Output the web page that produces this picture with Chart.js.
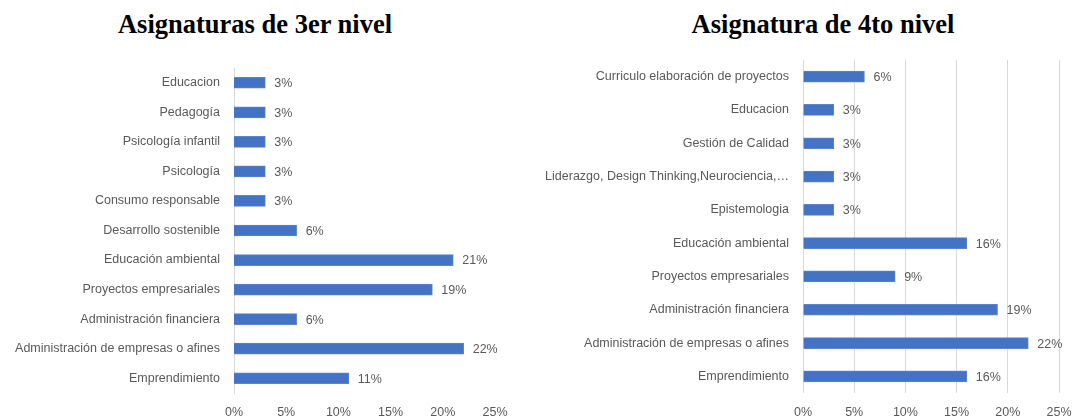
<!DOCTYPE html>
<html>
<head>
<meta charset="utf-8">
<script src="https://cdn.jsdelivr.net/npm/chart.js@4"></script>
<style>
  body { margin: 0; background: #fff; width: 1086px; height: 419px; position: relative; overflow: hidden; }
  .titulo { position: absolute; top: 9px; font-family: "Liberation Serif", "Times New Roman", serif; font-weight: bold; font-size: 26.5px; color: #000; white-space: nowrap; transform: translateX(-50%); }
  .caja { position: absolute; top: 0; height: 432px; }
</style>
</head>
<body>
<div class="titulo" style="left:255px">Asignaturas de 3er nivel</div>
<div class="titulo" style="left:823px">Asignatura de 4to nivel</div>
<div class="caja" style="left:0;width:540px"><canvas id="grafico3"></canvas></div>
<div class="caja" style="left:540px;width:546px"><canvas id="grafico4"></canvas></div>
<script>
// datos tercer nivel
const materias3 = ['Educacion', 'Pedagogía', 'Psicología infantil', 'Psicología', 'Consumo responsable',
    'Desarrollo sostenible', 'Educación ambiental', 'Proyectos empresariales', 'Administración financiera',
    'Administración de empresas o afines', 'Emprendimiento'];
const porcentajes3 = [3, 3, 3, 3, 3, 6, 21, 19, 6, 22, 11];

// datos cuarto nivel
const materias4 = ['Curriculo elaboración de proyectos', 'Educacion', 'Gestión de Calidad',
    'Liderazgo, Design Thinking,Neurociencia,…', 'Epistemologia', 'Educación ambiental',
    'Proyectos empresariales', 'Administración financiera', 'Administración de empresas o afines', 'Emprendimiento'];
const porcentajes4 = [6, 3, 3, 3, 3, 16, 9, 19, 22, 16];

const ticksX = [0, 5, 10, 15, 20, 25];

const fuente = { family: '"Liberation Sans", Arial, sans-serif', size: 12.5 };
const gris = '#595959';

// etiquetas al final de cada barra
const etiquetas = {
    id: 'etiquetas',
    afterDatasetsDraw(chart) {
        const ctx = chart.ctx;
        const meta = chart.getDatasetMeta(0);
        ctx.save();
        ctx.font = fuente.size + 'px ' + fuente.family;
        ctx.fillStyle = gris;
        ctx.textAlign = 'left';
        ctx.textBaseline = 'middle';
        meta.data.forEach((bar, i) => {
            ctx.fillText(chart.data.datasets[0].data[i] + '%', bar.x + 9, bar.y + 1);
        });
        ctx.restore();
    }
};

function crearGrafico(id, labels, valores, anchoEje, padding, conGrilla) {
    const ctx = document.getElementById(id).getContext('2d');
    return new Chart(ctx, {
        type: 'bar',
        data: {
            labels: labels,
            datasets: [{
                data: valores,
                backgroundColor: '#4472C4',
                borderColor: '#5b84cc',
                borderWidth: 1,
                barThickness: 11
            }]
        },
        options: {
            indexAxis: 'y',
            responsive: true,
            maintainAspectRatio: false,
            animation: false,
            layout: { padding: padding },
            plugins: {
                legend: { display: false },
                tooltip: { enabled: false }
            },
            scales: {
                x: {
                    min: 0,
                    max: 25,
                    afterBuildTicks: function(scale) {
                        scale.ticks = ticksX.map(v => ({ value: v }));
                    },
                    ticks: {
                        color: gris,
                        font: fuente,
                        padding: 12,
                        callback: v => v + '%'
                    },
                    grid: {
                        display: conGrilla,
                        color: '#d9d9d9',
                        drawTicks: false
                    },
                    border: { display: false }
                },
                y: {
                    afterFit: function(scale) { scale.width = anchoEje; },
                    ticks: { color: gris, font: fuente, padding: 14 },
                    grid: { display: false, drawTicks: false },
                    border: { display: !conGrilla, color: '#d9d9d9' }
                }
            }
        },
        plugins: [etiquetas]
    });
}

crearGrafico('grafico3', materias3, porcentajes3, 234, { top: 68, right: 45, bottom: 0, left: 0 }, false);
crearGrafico('grafico4', materias4, porcentajes4, 263, { top: 60, right: 27, bottom: 0, left: 0 }, true);
</script>
</body>
</html>
